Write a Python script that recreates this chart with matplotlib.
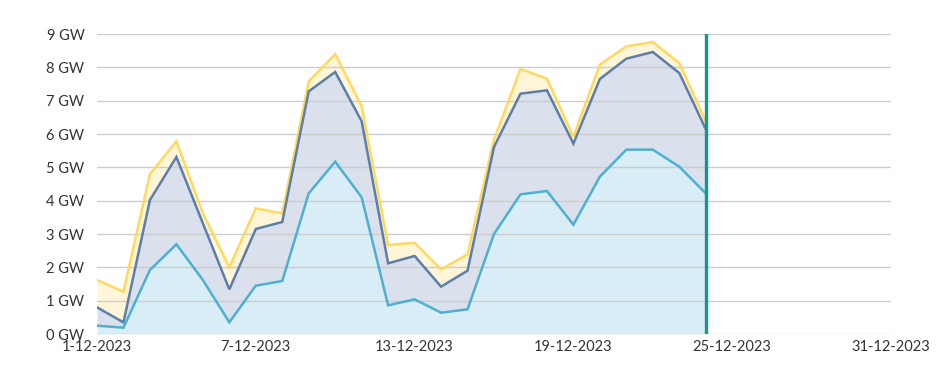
import matplotlib
matplotlib.use("Agg")
import matplotlib.pyplot as plt
import matplotlib.dates as mdates
import numpy as np
import datetime as dt

# Data (stacked levels in GW), daily from 1-12-2023 to 24-12-2023
dates = [dt.datetime(2023, 12, d) for d in range(1, 25)]
level_bottom = [0.25, 0.19, 1.92, 2.69, 1.62, 0.35, 1.45, 1.59, 4.22, 5.17, 4.10, 0.86,
                1.04, 0.64, 0.74, 3.00, 4.19, 4.29, 3.28, 4.72, 5.53, 5.53, 5.02, 4.22]
level_middle = [0.80, 0.35, 4.02, 5.31, 3.32, 1.34, 3.15, 3.36, 7.28, 7.86, 6.38, 2.12,
                2.34, 1.42, 1.90, 5.61, 7.21, 7.31, 5.71, 7.65, 8.26, 8.46, 7.83, 6.15]
level_top = [1.62, 1.27, 4.80, 5.78, 3.62, 2.00, 3.77, 3.62, 7.58, 8.40, 6.83, 2.67,
             2.74, 1.94, 2.39, 5.83, 7.95, 7.66, 5.91, 8.08, 8.63, 8.76, 8.13, 6.38]
marker_date = dt.datetime(2023, 12, 24)
x_ticks = [dt.datetime(2023, 12, d) for d in (1, 7, 13, 19, 25, 31)]
x_tick_labels = ["1-12-2023", "7-12-2023", "13-12-2023", "19-12-2023", "25-12-2023", "31-12-2023"]
y_ticks = list(range(0, 10))
y_tick_labels = [f"{v} GW" for v in y_ticks]

plt.rcParams['font.family'] = ['Lato', 'DejaVu Sans']

fig = plt.figure(figsize=(9.43, 3.76), dpi=100)
ax = fig.add_axes([97/943, 42/376, (891-97)/943, (334-34)/376])

x = mdates.date2num(dates)
c_top_line, c_top_fill = "#FFD95E", "#FFF5D9"
c_mid_line, c_mid_fill = "#5C7FA8", "#DBE1EC"
c_bot_line, c_bot_fill = "#4DB0D2", "#D9EDF6"

ax.fill_between(x, level_middle, level_top, color=c_top_fill, lw=0, zorder=1)
ax.fill_between(x, level_bottom, level_middle, color=c_mid_fill, lw=0, zorder=1)
ax.fill_between(x, 0, level_bottom, color=c_bot_fill, lw=0, zorder=1)

for yv in y_ticks:
    ax.axhline(yv, color="#cccccc", lw=1.0, zorder=2)

ax.plot(x, level_top, color=c_top_line, lw=1.8, zorder=3, solid_joinstyle='miter')
ax.plot(x, level_middle, color=c_mid_line, lw=1.8, zorder=4, solid_joinstyle='miter')
ax.plot(x, level_bottom, color=c_bot_line, lw=1.8, zorder=5, solid_joinstyle='miter')

ax.axvline(mdates.date2num(marker_date), color="#14968D", lw=2.4, zorder=6)

ax.set_xlim(mdates.date2num(dt.datetime(2023, 12, 1)), mdates.date2num(dt.datetime(2023, 12, 31)))
ax.set_ylim(0, 9)
ax.set_xticks(mdates.date2num(x_ticks))
ax.set_xticklabels(x_tick_labels)
ax.set_yticks(y_ticks)
ax.set_yticklabels(y_tick_labels)

for s in ax.spines.values():
    s.set_visible(False)
ax.tick_params(axis='both', length=0, labelsize=10.5, colors="#333333")
ax.tick_params(axis='y', pad=9)
ax.tick_params(axis='x', pad=4)
ax.set_facecolor("none")

fig.savefig("out.png", dpi=100)
